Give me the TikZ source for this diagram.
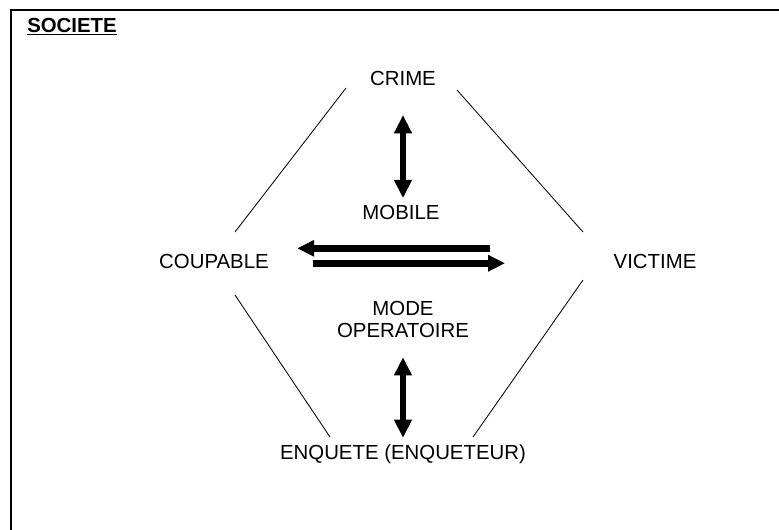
\documentclass[tikz,border=0pt]{standalone}
\usepackage{fontspec}
\setmainfont{Liberation Sans}
\usetikzlibrary{arrows.meta,calc}

\begin{document}
\begin{tikzpicture}[
  x=0.025cm, y=-0.025cm,
  font=\fontsize{14.5}{15}\selectfont,
  lbl/.style={inner sep=0pt, anchor=base, align=center},
  edge/.style={line width=0.6pt},
  harr/.style={-{Triangle[length=12pt,width=11pt]}, line width=5pt},
  varr/.style={{Triangle[length=13pt,width=12pt]}-{Triangle[length=13pt,width=12pt]}, line width=4pt}
]
\useasboundingbox (0,0) rectangle (779,529);
\begin{scope}
\clip (0,0) rectangle (779,529);
\draw[line width=1.6pt] (11,10) rectangle (820,570);
\end{scope}

\node[lbl, anchor=base west] (societe) at (27,32) {\underline{\textbf{SOCIETE}}};

\node[lbl] (crime) at (403,85) {CRIME};
\node[lbl] (mobile) at (401,219) {MOBILE};
\node[lbl] (coupable) at (214,268) {COUPABLE};
\node[lbl] (victime) at (655,268) {VICTIME};
\node[lbl] (modop) at (403,337) {MODE\\OPERATOIRE};
\node[lbl] (enquete) at (403,459) {ENQUETE (ENQUETEUR)};

% liens du losange
\coordinate (crL) at (346,88);
\coordinate (crR) at (457,90);
\coordinate (cpT) at (235,232);
\coordinate (cpB) at (235,295);
\coordinate (viT) at (583,232);
\coordinate (viB) at (583,280);
\coordinate (enL) at (330,437);
\coordinate (enR) at (473,437);

\draw[edge] (crL) -- (cpT);
\draw[edge] (crR) -- (viT);
\draw[edge] (cpB) -- (enL);
\draw[edge] (viB) -- (enR);

% fleches
\draw[varr, shorten <=21pt, shorten >=4.5pt] (crime.south) -- (crime.south |- mobile.north);
\draw[varr, shorten <=14pt, shorten >=4.3pt] (modop.south) -- (enquete.north);
\draw[harr, shorten <=88pt, shorten >=20pt] ([yshift=9pt]victime.west) -- ([yshift=9pt]coupable.east);
\draw[harr, shorten <=31pt, shorten >=77pt] ([yshift=-1.6pt]coupable.east) -- ([yshift=-1.6pt]victime.west);
\end{tikzpicture}
\end{document}
